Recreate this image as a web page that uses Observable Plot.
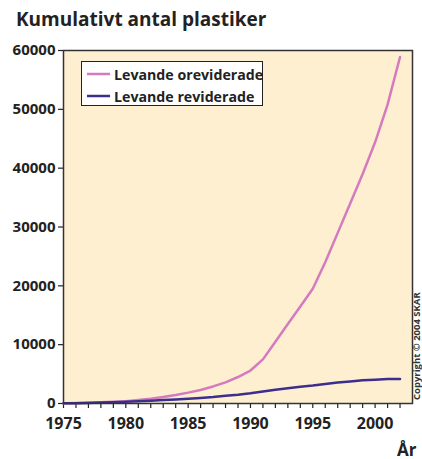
<!DOCTYPE html>
<html><head><meta charset="utf-8">
<script src="https://cdn.jsdelivr.net/npm/d3@7"></script>
<script src="https://cdn.jsdelivr.net/npm/@observablehq/plot@0.6"></script>
<style>
body{margin:0;background:#fff;width:422px;height:459px;overflow:hidden;font-family:"Open Sans",sans-serif;}
#title{position:relative;height:36px;}
#title span{position:absolute;left:16px;top:10px;line-height:18px;font-weight:bold;font-size:19px;color:#222;white-space:nowrap;}
#chart svg{display:block;}
</style></head><body>
<div id="title"><span>Kumulativt antal plastiker</span></div>
<div id="chart"></div>
<script>
const years = [1975,1976,1977,1978,1979,1980,1981,1982,1983,1984,1985,1986,1987,1988,1989,1990,1991,1992,1993,1994,1995,1996,1997,1998,1999,2000,2001,2002];
const oreviderade = [50,100,150,230,300,400,580,800,1100,1450,1850,2300,2900,3600,4500,5600,7500,10500,13500,16500,19500,24000,29000,34000,39000,44400,50800,58900];
const reviderade = [30,60,100,160,220,300,380,470,580,700,820,950,1100,1300,1500,1750,2050,2350,2600,2850,3050,3300,3550,3750,3950,4050,4150,4150];
const seriesNames = ["Levande oreviderade","Levande reviderade"];
const seriesColors = ["#d47bc0","#3b2e8e"];
const yTicks = [0,10000,20000,30000,40000,50000,60000];
const xLabelYears = [1975,1980,1985,1990,1995,2000];
const xAxisLabel = "År";
const copyrightText = "Copyright © 2004 SKAR";

const data = [];
years.forEach((y,i)=>{
  data.push({year:y, value:oreviderade[i], series:seriesNames[0]});
  data.push({year:y, value:reviderade[i], series:seriesNames[1]});
});

const ink = "#222";
const plot = Plot.plot({
  width:422, height:423,
  marginTop:14, marginBottom:56, marginLeft:63, marginRight:10,
  style:{fontFamily:"'Open Sans', sans-serif", fontWeight:"bold", color:ink, background:"transparent"},
  x:{domain:[1975,2003]},
  y:{domain:[0,60000]},
  color:{domain:seriesNames, range:seriesColors},
  marks:[
    Plot.frame({fill:"#feefd0", stroke:null}),
    Plot.axisY({ticks:yTicks, tickSize:5, tickPadding:3, tickFormat:d=>String(d), label:null, fontSize:15, fontWeight:"bold", stroke:ink, strokeWidth:1.2}),
    Plot.axisX({ticks:years, tickSize:5, tickFormat:()=>"", label:null, stroke:ink, strokeWidth:1.2}),
    Plot.axisX({ticks:xLabelYears, tickSize:0, tickPadding:14, tickFormat:d=>String(d), label:null, fontSize:16, fontWeight:"bold"}),
    Plot.lineY(data, {x:"year", y:"value", stroke:"series", strokeWidth:2.5}),
    Plot.frame({stroke:"#333", strokeWidth:1.5}),
    Plot.text([xAxisLabel], {frameAnchor:"bottom-right", dx:4, dy:52, fontSize:17, fontWeight:"bold", fill:ink})
  ]
});
document.getElementById("chart").appendChild(plot);

const svg = d3.select(plot);
// legend
const lg = svg.append("g");
lg.append("rect").attr("x",81.5).attr("y",25.5).attr("width",181).attr("height",44)
  .attr("fill","#fff").attr("stroke",ink).attr("stroke-width",1);
seriesNames.forEach((name,i)=>{
  const yy = 38 + i*22;
  lg.append("line").attr("x1",87).attr("x2",110).attr("y1",yy).attr("y2",yy)
    .attr("stroke",seriesColors[i]).attr("stroke-width",2.5);
  lg.append("text").attr("x",114).attr("y",yy+6).attr("text-anchor","start")
    .style("font-size","14.2px").style("font-weight","bold")
    .attr("fill",ink).text(name);
});
// copyright
svg.append("text").attr("transform","translate(420,364) rotate(-90)")
  .attr("text-anchor","start")
  .style("font-size","9.5px").style("font-weight","bold").attr("fill","#333").text(copyrightText);
</script>
</body></html>
